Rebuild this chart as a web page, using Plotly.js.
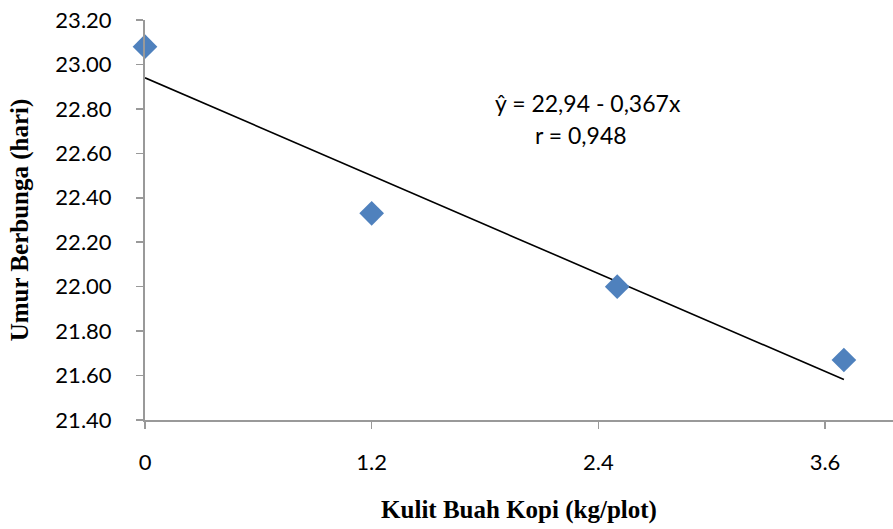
<!DOCTYPE html>
<html><head><meta charset="utf-8">
<script src="https://cdn.plot.ly/plotly-3.0.1.min.js"></script>
<style>html,body{margin:0;padding:0;background:#fff}</style>
</head><body>
<div id="chart" style="width:893px;height:529px"></div>
<script>
const xValues = [0, 1.2, 2.5, 3.7];
const yValues = [23.08, 22.33, 22.00, 21.67];
const lineX = [0, 3.7];
const intercept = 22.94;
const slope = -0.367;
const lineY = lineX.map(x => intercept + slope * x);
const xTickVals = [0, 1.2, 2.4, 3.6];
const xTickText = ['0', '1.2', '2.4', '3.6'];
const yTickVals = [21.4, 21.6, 21.8, 22.0, 22.2, 22.4, 22.6, 22.8, 23.0, 23.2];
const yTickText = yTickVals.map(v => v.toFixed(2));

const traces = [
  {x: lineX, y: lineY, mode: 'lines', line: {color: '#000', width: 1.6}, hoverinfo: 'skip', showlegend: false, cliponaxis: false},
  {x: xValues, y: yValues, mode: 'markers', marker: {symbol: 'diamond', size: 19, color: '#4F81BD', line: {width: 0}}, showlegend: false, cliponaxis: false}
];

const serif = '"Liberation Serif", "Times New Roman", serif';
const sans = 'Lato, "Open Sans", sans-serif';

const layout = {
  width: 893, height: 529,
  margin: {l: 145, r: 0, t: 20, b: 109},
  paper_bgcolor: '#fff', plot_bgcolor: '#fff',
  font: {family: sans, color: '#000', size: 22},
  xaxis: {
    range: [0, 3.96], tickvals: xTickVals, ticktext: xTickText,
    showgrid: false, zeroline: false, showline: true, linecolor: '#999', linewidth: 2,
    ticks: 'outside', ticklen: 7, tickcolor: '#999', tickwidth: 1.5, ticklabelstandoff: 15,
    tickfont: {family: sans, size: 22},
    title: {text: 'Kulit Buah Kopi (kg/plot)', font: {family: serif, size: 25, weight: 'bold'}, standoff: 26}
  },
  yaxis: {
    range: [21.4, 23.2], tickvals: yTickVals, ticktext: yTickText,
    showgrid: false, zeroline: false, showline: true, linecolor: '#999', linewidth: 2,
    ticks: 'outside', ticklen: 7, tickcolor: '#999', tickwidth: 1.5, ticklabelstandoff: 20,
    tickfont: {family: sans, size: 22},
    title: {text: 'Umur Berbunga (hari)', font: {family: serif, size: 25, weight: 'bold'}, standoff: 20}
  },
  annotations: [
    {xref: 'paper', yref: 'paper', x: (588-145)/748, y: (420-103)/400, text: 'ŷ = 22,94 - 0,367x', showarrow: false, font: {family: sans, size: 23}, xanchor: 'center', yanchor: 'middle'},
    {xref: 'paper', yref: 'paper', x: (581-145)/748, y: (420-135)/400, text: 'r = 0,948', showarrow: false, font: {family: sans, size: 23}, xanchor: 'center', yanchor: 'middle'}
  ]
};
Plotly.newPlot('chart', traces, layout, {displayModeBar: false, staticPlot: true});
</script>
</body></html>
